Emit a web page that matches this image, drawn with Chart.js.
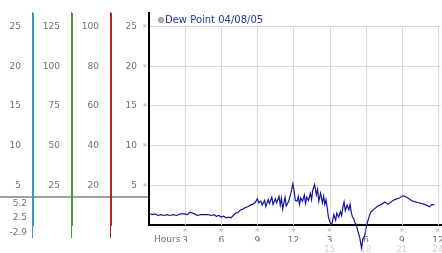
<!DOCTYPE html>
<html>
<head>
<meta charset="utf-8">
<script src="https://cdn.jsdelivr.net/npm/chart.js@4/dist/chart.umd.min.js"></script>
<style>
  body { margin: 0; background: #fff; }
  #wrap { width: 442px; height: 253px; }
</style>
</head>
<body>
<div id="wrap"><canvas id="chart" width="442" height="253"></canvas></div>
<script>
// ----- DATA ----- //
const seriesLabel = 'Dew Point 04/08/05';
const hours = [
    0.0, 0.25, 0.5, 0.75, 1.0, 1.25, 1.5, 1.75, 2.0, 2.3, 2.6, 2.9, 3.2, 3.4, 3.6, 3.8,
    4.0, 4.3, 4.6, 4.9, 5.2, 5.4, 5.6, 5.8, 6.0, 6.2, 6.4, 6.6, 6.8, 7.0, 7.2, 7.4,
    7.6, 7.8, 8.0, 8.2, 8.4, 8.6, 8.8, 9.0, 9.1, 9.3, 9.4, 9.6, 9.7, 9.9, 10.0, 10.2,
    10.3, 10.5, 10.6, 10.8, 10.9, 11.0, 11.1, 11.3, 11.4, 11.6, 11.8, 11.95, 12.05, 12.15,
    12.3, 12.4, 12.5, 12.6, 12.75, 12.9, 13.0, 13.1, 13.25, 13.4, 13.5, 13.6, 13.75, 13.9,
    14.0, 14.1, 14.25, 14.4, 14.5, 14.6, 14.7, 14.8, 14.9, 15.0, 15.1, 15.2, 15.35, 15.5,
    15.6, 15.75, 15.9, 16.0, 16.1, 16.2, 16.3, 16.45, 16.6, 16.7, 16.8, 16.9, 17.0, 17.1,
    17.2, 17.35, 17.5, 17.65, 17.75, 17.9, 18.0, 18.1, 18.25, 18.4, 18.7, 19.0, 19.3, 19.6,
    19.85, 20.1, 20.4, 20.8, 21.1, 21.4, 21.9, 22.4, 22.9, 23.3, 23.5, 23.7
];
const dewPoint = [
    1.5, 1.3, 1.4, 1.2, 1.3, 1.2, 1.3, 1.2, 1.3, 1.2, 1.4, 1.4, 1.3, 1.6, 1.5, 1.4,
    1.2, 1.3, 1.3, 1.3, 1.2, 1.3, 1.1, 1.2, 1.0, 1.1, 0.9, 1.0, 0.9, 1.2, 1.5, 1.6,
    1.9, 2.0, 2.2, 2.3, 2.5, 2.6, 2.8, 3.3, 2.8, 3.0, 2.5, 3.1, 2.3, 3.2, 2.7, 3.5,
    2.6, 3.3, 2.8, 3.6, 2.5, 3.4, 2.0, 3.5, 2.4, 3.0, 4.1, 5.2, 4.3, 3.1,
    3.0, 3.6, 2.6, 3.4, 3.0, 3.8, 2.7, 3.5, 3.1, 4.0, 3.2, 4.4, 5.1, 3.8,
    4.5, 3.0, 4.0, 2.8, 3.6, 2.6, 3.2, 2.2, 1.0, 0.5, 0.1, 0.2, 1.3, 0.6,
    1.5, 1.0, 1.7, 1.2, 2.2, 2.9, 1.8, 2.5, 1.9, 2.6, 1.6, 1.0, 0.8, 0.3,
    0.1, -0.8, -1.6, -2.9, -1.8, -1.4, -0.6, 0.1, 0.9, 1.6, 2.0, 2.4, 2.6, 2.9,
    2.6, 2.9, 3.2, 3.4, 3.7, 3.5, 3.0, 2.8, 2.6, 2.3, 2.6, 2.5
];

// hour ticks, 12h clock on the first row, 24h clock on the second
const hourStep = 3;
const hourMax = 24.25;
// main scale and the three extra scales on the left (same zero, different steps)
const mainMax = 26.7;
const mainStep = 5;
const extraAxes = [
    { id: 'ya', factor: 1, step: 5, color: '#3399cc', width: 33 },
    { id: 'yb', factor: 5, step: 25, color: '#33a033', width: 39 },
    { id: 'yc', factor: 4, step: 20, color: '#b02828', width: 39 }
];

const tickColor = '#707070';
const fadedColor = '#d2d2d2';
const gridColor = '#d8d8d8';
Chart.defaults.font.family = "'DejaVu Sans', Verdana, sans-serif";
Chart.defaults.font.size = 9;

function noPad(scale) {
    scale.paddingLeft = 0; scale.paddingRight = 0;
    scale.paddingTop = 0; scale.paddingBottom = 0;
}

// ----- SCALES ----- //
const scales = {
    x: {
        type: 'linear', position: 'bottom', min: 0, max: hourMax, weight: 0,
        grid: { display: false, drawTicks: false },
        border: { color: '#000', width: 2 },
        ticks: {
            stepSize: hourStep, includeBounds: false, autoSkip: false, maxRotation: 0,
            padding: 10, color: tickColor,
            callback: v => v === 0 ? '' : String(v > 12 ? v - 12 : v)
        },
        afterFit: s => { s.height = 17; noPad(s); }
    },
    x2: {
        type: 'linear', position: 'bottom', min: 0, max: hourMax, weight: 1,
        grid: { display: false, drawTicks: false },
        border: { display: false },
        ticks: {
            stepSize: hourStep, includeBounds: false, autoSkip: false, maxRotation: 0,
            padding: 2, color: fadedColor,
            callback: v => v > 12 ? String(v) : ''
        },
        afterFit: s => { s.height = 11; noPad(s); }
    },
    y: {
        type: 'linear', position: 'left', min: 0, max: mainMax, weight: 0,
        grid: {
            drawTicks: false,
            color: c => c.tick && c.tick.value > 0 ? gridColor : 'rgba(0,0,0,0)'
        },
        border: { color: '#000', width: 2 },
        ticks: {
            stepSize: mainStep, includeBounds: false, padding: 12, color: tickColor,
            callback: v => v === 0 ? '' : String(v)
        },
        afterFit: s => { s.width = 38; noPad(s); }
    }
};
extraAxes.forEach((a, i) => {
    scales[a.id] = {
        type: 'linear', position: 'left', min: 0, max: mainMax * a.factor,
        weight: extraAxes.length - i,
        grid: { display: false, drawTicks: false },
        border: { color: a.color, width: 1 },
        ticks: {
            stepSize: a.step, includeBounds: false, padding: 12, color: tickColor,
            callback: v => v === 0 ? '' : String(v)
        },
        afterFit: s => { s.width = a.width; noPad(s); }
    };
});

// ----- EXTRA DRAWING: grid, legend, marks, stats box ----- //
const extras = {
    id: 'extras',
    beforeDraw(chart) {
        const { ctx, chartArea } = chart;
        ctx.save();
        ctx.fillStyle = '#fff';
        ctx.fillRect(0, 0, chart.width, chart.height);
        // separator of the stats box on the left
        ctx.fillStyle = '#a0a0a0';
        ctx.fillRect(0, 196, chartArea.left, 2);
        ctx.restore();
    },
    beforeDatasetsDraw(chart) {
        const { ctx, chartArea, scales } = chart;
        const top = Math.round(scales.y.getPixelForValue(25));
        ctx.save();
        ctx.strokeStyle = gridColor;
        ctx.lineWidth = 1;
        scales.x.ticks.forEach(t => {
            if (t.value <= 0) return;
            const px = Math.round(scales.x.getPixelForValue(t.value)) + 0.5;
            ctx.beginPath();
            ctx.moveTo(px, top);
            ctx.lineTo(px, chartArea.bottom);
            ctx.stroke();
        });
        ctx.restore();
    },
    afterDraw(chart) {
        const { ctx, chartArea, scales } = chart;
        ctx.save();
        // coloured axis lines run a bit past the plot
        extraAxes.forEach(a => {
            const s = scales[a.id];
            const px = Math.round(s.right) - 0.5;
            ctx.strokeStyle = a.color;
            ctx.lineWidth = 1;
            ctx.beginPath();
            ctx.moveTo(px, chartArea.top - 1);
            ctx.lineTo(px, chartArea.bottom + 13);
            ctx.stroke();
        });
        // small tick marks
        ctx.fillStyle = '#b0b0b0';
        ctx.font = "6px 'DejaVu Sans'";
        ctx.textAlign = 'center';
        ctx.textBaseline = 'middle';
        scales.y.ticks.forEach(t => {
            if (t.value <= 0) return;
            ctx.fillText('\u203B', scales.y.right - 4, scales.y.getPixelForValue(t.value));
        });
        scales.x.ticks.forEach(t => {
            if (t.value <= 0) return;
            ctx.fillText('\u203B', scales.x.getPixelForValue(t.value), chartArea.bottom + 5);
        });
        // legend
        const lx = chartArea.left + 12, ly = 20;
        ctx.beginPath();
        ctx.arc(lx, ly, 2.5, 0, Math.PI * 2);
        ctx.fillStyle = '#b8b8b8';
        ctx.fill();
        ctx.strokeStyle = '#888';
        ctx.lineWidth = 1;
        ctx.stroke();
        ctx.fillStyle = '#2233aa';
        ctx.font = "10px 'DejaVu Sans'";
        ctx.textAlign = 'left';
        ctx.fillText(chart.data.datasets[0].label, lx + 4, ly);
        // axis name
        ctx.fillStyle = tickColor;
        ctx.font = "9px 'DejaVu Sans'";
        ctx.fillText('Hours', chartArea.left + 5, chartArea.bottom + 15);
        // stats: max, current, min
        const vals = chart.data.datasets[0].data.map(p => p.y);
        const stats = [Math.max(...vals), vals[vals.length - 1], Math.min(...vals)];
        ctx.textAlign = 'right';
        [204, 218, 233].forEach((yy, i) => ctx.fillText(stats[i].toFixed(1), 27, yy));
        ctx.restore();
    }
};

// ----- CHART ----- //
new Chart(document.getElementById('chart'), {
    type: 'line',
    data: {
        datasets: [{
            label: seriesLabel,
            data: hours.map((h, i) => ({ x: h, y: dewPoint[i] })),
            borderColor: '#14149a',
            borderWidth: 1.2,
            pointRadius: 0,
            tension: 0,
            clip: false,
            xAxisID: 'x',
            yAxisID: 'y'
        }]
    },
    options: {
        responsive: false,
        animation: false,
        devicePixelRatio: 1,
        layout: { padding: { top: 13, right: 1, left: 0, bottom: 0 } },
        plugins: { legend: { display: false }, tooltip: { enabled: false } },
        scales: scales
    },
    plugins: [extras]
});
</script>
</body>
</html>
